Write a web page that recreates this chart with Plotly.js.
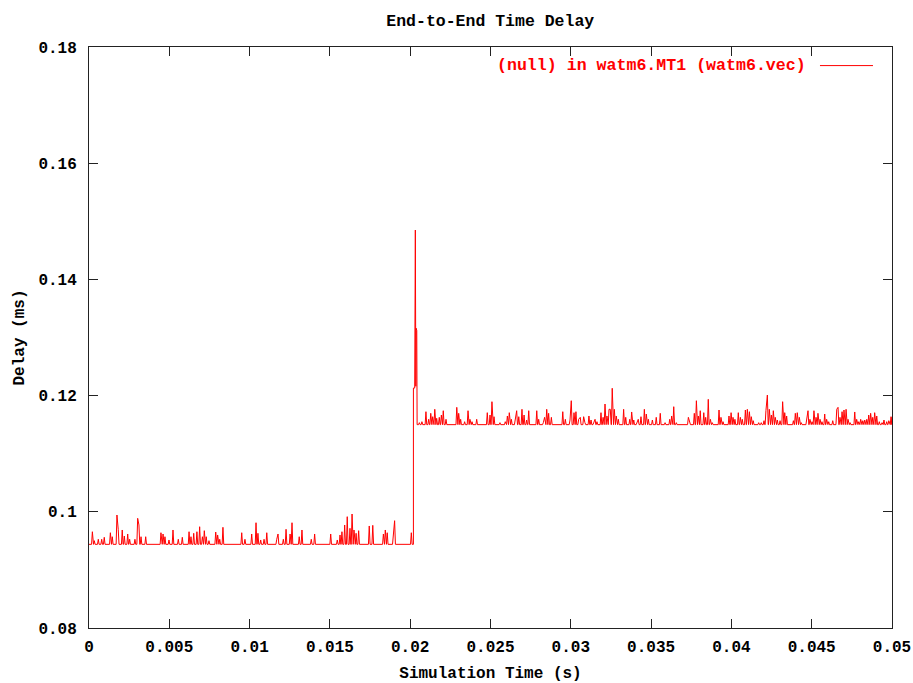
<!DOCTYPE html>
<html>
<head>
<meta charset="utf-8">
<script src="https://cdn.plot.ly/plotly-3.0.1.min.js"></script>
<style>html,body{margin:0;padding:0;background:#fff;}#chart{width:913px;height:683px;}</style>
</head>
<body>
<div id="chart"></div>
<script>
// ---- Data ----
const seriesName = "(null) in watm6.MT1 (watm6.vec)";
const chartTitle = "End-to-End Time Delay";
const xTitle = "Simulation Time (s)";
const yTitle = "Delay (ms)";

const preBase = 0.0944;   // baseline delay before the jump
const postBase = 0.115;   // baseline delay after the jump

const preSpikeT = [0.00021,0.00033,0.00058,0.00079,0.00095,0.00133,0.00145,0.00174,0.00182,0.00207,0.0022,0.00241,0.00253,0.00286,0.00303,0.00311,0.00324,0.00353,0.00448,0.00461,0.00473,0.00498,0.00523,0.00556,0.00581,0.00623,0.00635,0.00652,0.00672,0.00689,0.00706,0.00718,0.0073,0.00747,0.00789,0.00801,0.00814,0.00834,0.00951,0.00971,0.01013,0.0104,0.01052,0.01069,0.0109,0.01107,0.01169,0.01177,0.0121,0.01227,0.01252,0.01264,0.01309,0.01326,0.01384,0.01405,0.01505,0.01546,0.01563,0.01575,0.01592,0.01608,0.01625,0.01638,0.0165,0.01663,0.01679,0.01745,0.01767,0.01833,0.01845,0.01857,0.01895,0.01903,0.02007];
const preSpikeD = [0.09657,0.09503,0.09527,0.09527,0.09561,0.0964,0.09571,0.09945,0.09699,0.09687,0.09583,0.09618,0.09527,0.09527,0.09888,0.09773,0.09571,0.09571,0.0964,0.09618,0.09571,0.09515,0.09687,0.09527,0.09561,0.09657,0.09571,0.0963,0.09657,0.09743,0.09571,0.09675,0.09571,0.09503,0.09652,0.09601,0.09527,0.09733,0.0964,0.09527,0.09618,0.09812,0.0963,0.09515,0.09527,0.0964,0.09527,0.09618,0.09527,0.09699,0.09618,0.09812,0.09571,0.09687,0.09527,0.09618,0.09618,0.09515,0.09601,0.09657,0.09773,0.09916,0.09716,0.09962,0.09687,0.0963,0.09675,0.09756,0.09767,0.09618,0.09687,0.0964,0.0964,0.09847,0.0964];

const jumpT = [0.0202,0.0202,0.02028,0.02032,0.02035,0.02037,0.02039,0.02041,0.02043];
const jumpD = [0.0944,0.1213,0.1213,0.1485,0.1216,0.1316,0.1220,0.1312,0.115];

const postSpikeT = [0.02057,0.02073,0.02098,0.02115,0.02128,0.0214,0.02153,0.02165,0.02181,0.02194,0.02206,0.02223,0.0229,0.02302,0.02314,0.02339,0.0236,0.02372,0.02385,0.02414,0.0248,0.02497,0.02509,0.02522,0.02559,0.02592,0.02605,0.02617,0.0263,0.02654,0.02663,0.02676,0.02696,0.02709,0.02725,0.02738,0.02788,0.028,0.02829,0.02837,0.0285,0.02862,0.02879,0.0295,0.02966,0.02995,0.03003,0.0302,0.03032,0.03049,0.03059,0.0308,0.03088,0.03113,0.03126,0.03143,0.03151,0.03163,0.03188,0.03201,0.03213,0.03225,0.03238,0.03246,0.03258,0.03271,0.03283,0.03296,0.03329,0.03342,0.03367,0.03379,0.03392,0.03412,0.0342,0.03437,0.03458,0.0347,0.03483,0.03508,0.03532,0.03557,0.03587,0.03616,0.03628,0.03641,0.03657,0.03732,0.0374,0.03769,0.03782,0.03794,0.03806,0.03828,0.0384,0.03856,0.03869,0.03881,0.03923,0.03935,0.03948,0.03985,0.03998,0.0401,0.04022,0.04043,0.04056,0.04068,0.04087,0.04099,0.04112,0.04124,0.04136,0.0417,0.04186,0.04203,0.04215,0.04224,0.04236,0.04249,0.04261,0.04273,0.04286,0.04303,0.04319,0.04332,0.04344,0.04386,0.04398,0.0441,0.04423,0.04435,0.04469,0.04477,0.04489,0.04502,0.04514,0.04527,0.04539,0.04552,0.04564,0.04581,0.04593,0.04606,0.04631,0.04656,0.04664,0.04676,0.04689,0.04701,0.04714,0.04726,0.04739,0.04768,0.0478,0.04793,0.04805,0.04818,0.0483,0.04843,0.04855,0.04867,0.0488,0.04892,0.04905,0.04921,0.04938,0.0495,0.04967,0.0498,0.04994];
const postSpikeD = [0.11534,0.11551,0.11723,0.11592,0.11695,0.11637,0.11764,0.11609,0.11626,0.11666,0.1174,0.11592,0.11798,0.11695,0.11592,0.11551,0.1174,0.11592,0.11551,0.11592,0.11706,0.11666,0.11895,0.11637,0.11534,0.11551,0.11649,0.11706,0.11592,0.11626,0.1174,0.11637,0.11764,0.11666,0.1158,0.1174,0.1174,0.11592,0.11534,0.11626,0.11764,0.11695,0.11626,0.11723,0.11592,0.1158,0.11912,0.11706,0.11723,0.11592,0.11626,0.11637,0.11534,0.11649,0.1158,0.11551,0.11592,0.11551,0.11706,0.11626,0.11855,0.11649,0.11764,0.11764,0.12126,0.11764,0.11649,0.11592,0.11764,0.11626,0.11592,0.11718,0.1158,0.11534,0.11592,0.11637,0.11764,0.11683,0.11592,0.1158,0.11626,0.11695,0.11534,0.11592,0.11649,0.11809,0.11534,0.11626,0.11551,0.11695,0.11912,0.11649,0.1174,0.11706,0.11626,0.11936,0.11592,0.11534,0.11752,0.11626,0.11551,0.11649,0.11706,0.11626,0.11592,0.11706,0.11626,0.11592,0.11752,0.11764,0.11723,0.11637,0.11568,0.11534,0.11534,0.11568,0.1174,0.1201,0.11764,0.11666,0.1174,0.11626,0.1158,0.11568,0.11895,0.11706,0.11649,0.11568,0.11695,0.11706,0.11626,0.11534,0.11609,0.1174,0.11592,0.11551,0.1174,0.11626,0.11695,0.11592,0.11551,0.11683,0.11592,0.11551,0.11568,0.11764,0.11798,0.11626,0.11723,0.11752,0.11764,0.11592,0.11534,0.11718,0.11592,0.11551,0.11592,0.11568,0.1158,0.11592,0.11666,0.11695,0.11626,0.11706,0.11649,0.11551,0.11534,0.1158,0.11551,0.11568,0.11637];
const endT = 0.05;
const endD = 0.1163;

// ---- Build the polyline from the samples ----
const hw = 0.00005;
const xs = [0], ys = [preBase];
function addSpikes(T, D, base) {
  for (let i = 0; i < T.length; i++) {
    const lastIsBase = ys[ys.length - 1] === base;
    if (lastIsBase && T[i] - hw > xs[xs.length - 1]) { xs.push(T[i] - hw); ys.push(base); }
    xs.push(T[i]); ys.push(D[i]);
    const next = i + 1 < T.length ? T[i + 1] : Infinity;
    if (T[i] + hw < next - hw) { xs.push(T[i] + hw); ys.push(base); }
  }
}
addSpikes(preSpikeT, preSpikeD, preBase);
for (let i = 0; i < jumpT.length; i++) { xs.push(jumpT[i]); ys.push(jumpD[i]); }
addSpikes(postSpikeT, postSpikeD, postBase);
xs.push(endT); ys.push(endD);

const font = {family: "Liberation Mono, DejaVu Sans Mono, monospace", size: 16, color: "#000", weight: "bold"};
const axisCommon = {
  showline: true, linecolor: "#222", linewidth: 1, mirror: "ticks",
  ticks: "inside", ticklen: 9, tickwidth: 1, tickcolor: "#222",
  showgrid: false, zeroline: false, tickfont: font
};

const trace = {
  x: xs, y: ys, type: "scatter", mode: "lines",
  line: {color: "#ff0000", width: 1},
  name: seriesName, showlegend: false, hoverinfo: "x+y"
};

const layout = {
  width: 913, height: 683,
  margin: {l: 89, r: 21, t: 47, b: 55},
  paper_bgcolor: "#fff", plot_bgcolor: "#fff",
  font: font,
  title: {text: chartTitle, font: Object.assign({}, font, {size: 16.5}), x: 0.537, xanchor: "center", y: 0.971, yanchor: "middle"},
  xaxis: Object.assign({}, axisCommon, {
    range: [0, 0.05], dtick: 0.005, tick0: 0,
    ticklabelstandoff: 4,
    title: {text: xTitle, font: font, standoff: 11}
  }),
  yaxis: Object.assign({}, axisCommon, {
    range: [0.08, 0.18], dtick: 0.02, tick0: 0.08,
    ticklabelstandoff: 8,
    title: {text: yTitle, font: font, standoff: 9}
  }),
  annotations: [{
    xref: "paper", yref: "paper", x: 0.8954, y: 0.968,
    xanchor: "right", yanchor: "middle", showarrow: false,
    text: seriesName, font: Object.assign({}, font, {color: "#ff0000", size: 16.6})
  }],
  shapes: [{
    type: "line", xref: "paper", yref: "paper",
    x0: 0.9103, x1: 0.9763, y0: 0.968, y1: 0.968,
    line: {color: "#ff0000", width: 1}
  }]
};

Plotly.newPlot("chart", [trace], layout, {displayModeBar: false, staticPlot: true});
</script>
</body>
</html>
